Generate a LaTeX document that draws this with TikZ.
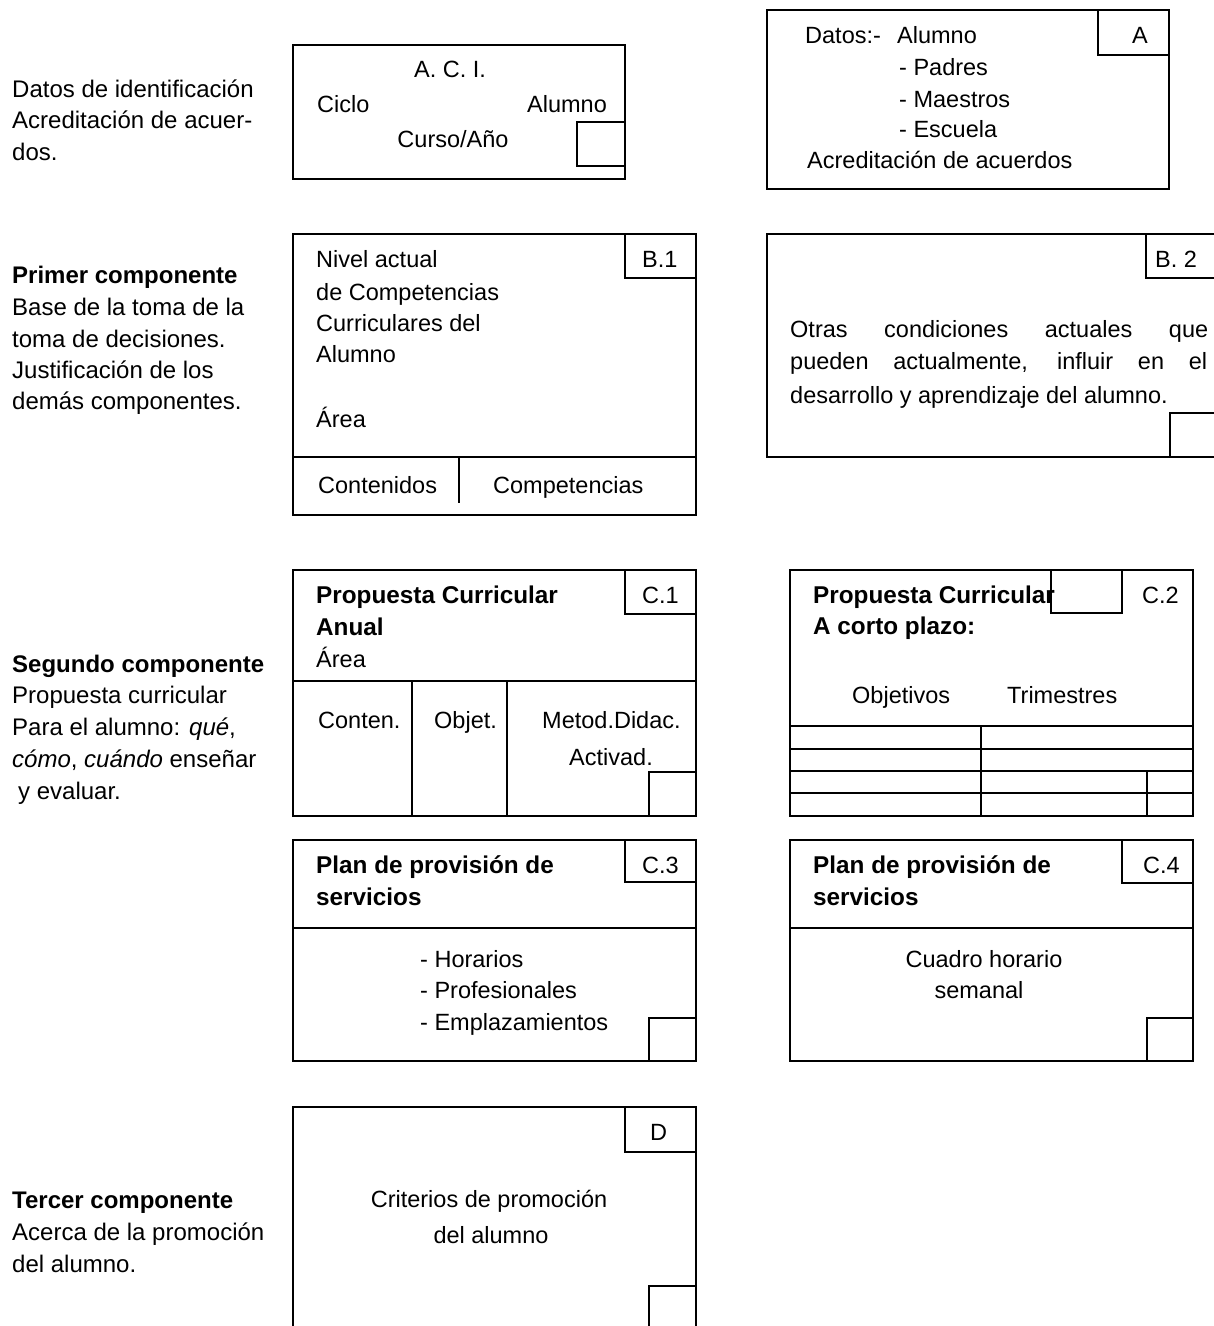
\documentclass[tikz,border=0pt]{standalone}
\usepackage{fontspec}
\setmainfont{Liberation Sans}
\newcommand\fbx{\fontsize{23.5}{32}\selectfont}
\newcommand\fbb{\fontsize{24.3}{32}\selectfont\bfseries}
\newcommand\flc{\fontsize{24}{32}\selectfont}
\tikzset{
  frame/.style={draw=black, line width=2pt},
  bt/.style={font=\fbx, inner sep=0pt, anchor=base west},
  bb/.style={font=\fbb, inner sep=0pt, anchor=base west},
  bc/.style={font=\fbx, inner sep=0pt, anchor=base},
  be/.style={font=\fbx, inner sep=0pt, anchor=base east},
  lt/.style={font=\flc, inner sep=0pt, anchor=base west},
  lb/.style={font=\flc\bfseries, inner sep=0pt, anchor=base west},
}
\begin{document}
\begin{tikzpicture}[x=1pt,y=-1pt]
\useasboundingbox (0,0) rectangle (1214,1326);
\clip (0,0) rectangle (1214,1326);
\fill[white] (0,0) rectangle (1214,1326);

% ---------- left column ----------
\node[lt] (l1) at (12,97) {Datos de identificación};
\node[lt] (l2) at (12,128) {Acreditación de acuer-};
\node[lt] (l3) at (12,160) {dos.};
\node[lb] (l4) at (12,283) {Primer componente};
\node[lt] (l5) at (12,315) {Base de la toma de la};
\node[lt] (l6) at (12,347) {toma de decisiones.};
\node[lt] (l7) at (12,378) {Justificación de los};
\node[lt] (l8) at (12,409) {demás componentes.};
\node[lb] (l9) at (12,672) {Segundo componente};
\node[lt] (l10) at (12,703) {Propuesta curricular};
\node[lt] (l11) at (12,735) {Para el alumno: \textit{qué},};
\node[lt] (l12) at (12,767) {\textit{cómo}, \textit{cuándo} enseñar};
\node[lt] (l13) at (18,799) {y evaluar.};
\node[lb] (l14) at (12,1208) {Tercer componente};
\node[lt] (l15) at (12,1240) {Acerca de la promoción};
\node[lt] (l16) at (12,1272) {del alumno.};

% ---------- A.C.I. ----------
\draw[frame] (293,45) rectangle (625,179);
\draw[frame] (577,122) rectangle (625,166);
\node[bc] (aci) at (450,77) {A. C. I.};
\node[bt] (ciclo) at (317,112) {Ciclo};
\node[bt] (alu) at (527,112) {Alumno};
\node[bc] (curso) at (453,147) {Curso/Año};

% ---------- A ----------
\draw[frame] (767,10) rectangle (1169,189);
\draw[frame] (1098,10) rectangle (1169,55);
\node[bt] (labA) at (1132,43) {A};
\node[bt] (a1) at (805,43) {\makebox[92pt][l]{Datos:-}Alumno};
\node[bt] (a2) at (899,75) {- Padres};
\node[bt] (a3) at (899,107) {- Maestros};
\node[bt] (a4) at (899,137) {- Escuela};
\node[bt] (a5) at (807,168) {Acreditación de acuerdos};

% ---------- B.1 ----------
\draw[frame] (293,234) rectangle (696,515);
\draw[frame] (625,234) rectangle (696,278);
\draw[frame] (293,457) -- (696,457);
\draw[frame] (459,457) -- (459,503);
\node[bt] (labB1) at (642,267) {B.1};
\node[bt] (b1) at (316,267) {Nivel actual};
\node[bt] (b2) at (316,300) {de Competencias};
\node[bt] (b3) at (316,331) {Curriculares del};
\node[bt] (b4) at (316,362) {Alumno};
\node[bt] (b5) at (316,427) {Área};
\node[bt] (b6) at (318,493) {Contenidos};
\node[bt] (b7) at (493,493) {Competencias};

% ---------- B.2 ----------
\draw[frame] (767,234) rectangle (1230,457);
\draw[frame] (1146,234) rectangle (1230,278);
\draw[frame] (1170,413) rectangle (1230,457);
\node[bt] (labB2) at (1155,267) {B. 2};
\node[bt] (c1) at (790,337) {\makebox[418pt][s]{Otras condiciones actuales que}};
\node[bt] (c2) at (790,369) {\makebox[417pt][s]{pueden actualmente, influir en el}};
\node[bt] (c3) at (790,403) {desarrollo y aprendizaje del alumno.};

% ---------- C.1 ----------
\draw[frame] (293,570) rectangle (696,816);
\draw[frame] (625,570) rectangle (696,614);
\draw[frame] (293,681) -- (696,681);
\draw[frame] (412,681) -- (412,816);
\draw[frame] (507,681) -- (507,816);
\draw[frame] (649,772) rectangle (696,816);
\node[bt] (labC1) at (642,603) {C.1};
\node[bb] (d1) at (316,603) {Propuesta Curricular};
\node[bb] (d2) at (316,635) {Anual};
\node[bt] (d3) at (316,667) {Área};
\node[bt] (d4) at (318,728) {Conten.};
\node[bt] (d5) at (434,728) {Objet.};
\node[bt] (d6) at (542,728) {Metod.Didac.};
\node[be] (d7) at (653,765) {Activad.};

% ---------- C.2 ----------
\draw[frame] (790,570) rectangle (1193,816);
\node[bt] (labC2) at (1142,603) {C.2};
\node[bb] (e1) at (813,603) {Propuesta Curricular};
\node[bb] (e2) at (813,634) {A corto plazo:};
\node[bt] (e3) at (852,703) {Objetivos};
\node[bt] (e4) at (1007,703) {Trimestres};
\draw[frame] (1051,570) rectangle (1122,613);
\draw[frame] (790,726) -- (1193,726);
\draw[frame] (790,749) -- (1193,749);
\draw[frame] (790,771) -- (1193,771);
\draw[frame] (790,793) -- (1193,793);
\draw[frame] (981,726) -- (981,816);
\draw[frame] (1147,771) -- (1147,816);

% ---------- C.3 ----------
\draw[frame] (293,840) rectangle (696,1061);
\draw[frame] (625,840) rectangle (696,882);
\draw[frame] (293,928) -- (696,928);
\draw[frame] (649,1018) rectangle (696,1061);
\node[bt] (labC3) at (642,873) {C.3};
\node[bb] (f1) at (316,873) {Plan de provisión de};
\node[bb] (f2) at (316,905) {servicios};
\node[bt] (f3) at (420,967) {- Horarios};
\node[bt] (f4) at (420,998) {- Profesionales};
\node[bt] (f5) at (420,1030) {- Emplazamientos};

% ---------- C.4 ----------
\draw[frame] (790,840) rectangle (1193,1061);
\draw[frame] (1122,840) rectangle (1193,883);
\draw[frame] (790,928) -- (1193,928);
\draw[frame] (1147,1018) rectangle (1193,1061);
\node[bt] (labC4) at (1143,873) {C.4};
\node[bb] (g1) at (813,873) {Plan de provisión de};
\node[bb] (g2) at (813,905) {servicios};
\node[bc] (g3) at (984,967) {Cuadro horario};
\node[bc] (g4) at (979,998) {semanal};

% ---------- D ----------
\draw[frame] (293,1107) rectangle (696,1340);
\draw[frame] (625,1107) rectangle (696,1152);
\draw[frame] (649,1286) rectangle (696,1340);
\node[bt] (labD) at (650,1140) {D};
\node[bc] (h1) at (489,1207) {Criterios de promoción};
\node[bc] (h2) at (491,1243) {del alumno};
\end{tikzpicture}
\end{document}
